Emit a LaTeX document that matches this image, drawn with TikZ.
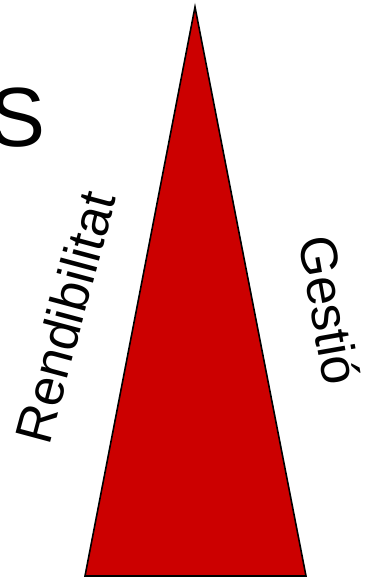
\documentclass[tikz,border=0pt]{standalone}
\usepackage{fontspec}
\setmainfont{Liberation Sans}
\definecolor{tri}{HTML}{CC0000}
\begin{document}
\begin{tikzpicture}[x=1pt,y=-1pt,
  lbl/.style={inner sep=0pt, font=\fontsize{52}{60}\selectfont}]
\useasboundingbox (0,0) rectangle (378,579);
\coordinate (apex) at (195,7);
\coordinate (bl) at (85,576);
\coordinate (br) at (306,576);
\filldraw[fill=tri, draw=black, line width=1.6pt, line join=miter] (apex) -- (br) -- (bl) -- cycle;
\node[lbl, rotate=75] (rend) at (65,317) {Rendibilitat};
\node[lbl, rotate=-80] (gest) at (330,310) {Gestió};
\node[inner sep=0pt, anchor=east, font=\fontsize{84}{90}\selectfont] (s) at (46,118) {S};
\end{tikzpicture}
\end{document}
